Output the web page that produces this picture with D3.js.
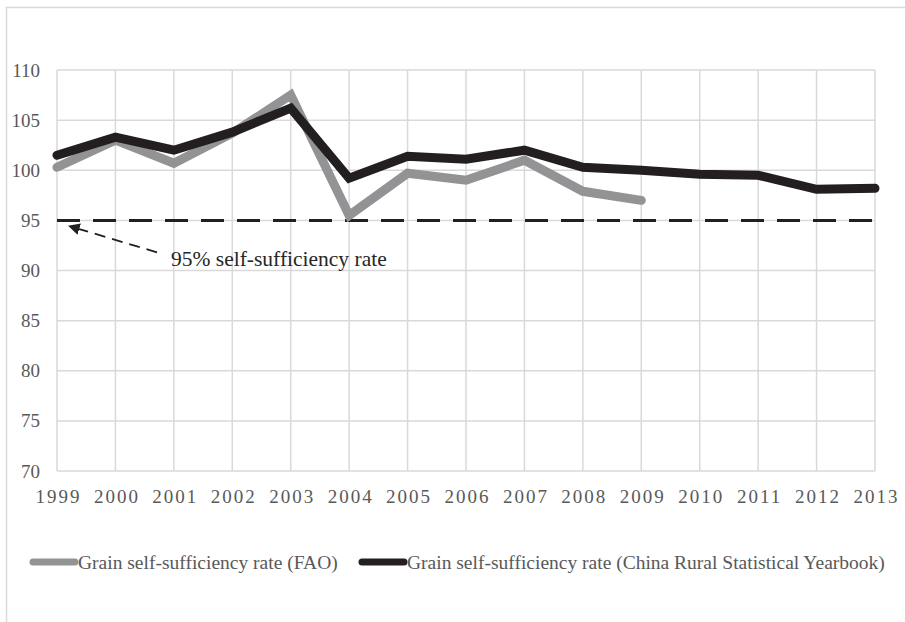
<!DOCTYPE html>
<html>
<head>
<meta charset="utf-8">
<script src="https://cdn.jsdelivr.net/npm/d3@7"></script>
<style>
  body { margin: 0; background: #fff; }
  text { font-family: "Liberation Serif", "Times New Roman", Times, serif; }
</style>
</head>
<body>
<div id="chart"></div>
<script>
// chart data
let years = [1999, 2000, 2001, 2002, 2003, 2004, 2005, 2006, 2007, 2008, 2009, 2010, 2011, 2012, 2013];
let faoRate = [100.3, 103.0, 100.7, 103.7, 107.5, 95.5, 99.7, 99.0, 101.0, 97.9, 97.0, null, null, null, null];
let yearbookRate = [101.5, 103.3, 102.0, 103.8, 106.2, 99.2, 101.4, 101.1, 102.0, 100.3, 100.0, 99.6, 99.5, 98.1, 98.2];
let yTicks = [70, 75, 80, 85, 90, 95, 100, 105, 110];
let threshold = 95;
let thresholdLabel = "95% self-sufficiency rate";
let seriesNames = ["Grain self-sufficiency rate (FAO)", "Grain self-sufficiency rate (China Rural Statistical Yearbook)"];
let seriesColors = ["#939395", "#231f20"];

let width = 905, height = 622;
let margin = {top: 70, right: 30, bottom: 151, left: 57};
let serif = "'Liberation Serif', 'Times New Roman', Times, serif";

let svg = d3.select("#chart").append("svg")
            .attr("width", width)
            .attr("height", height);

// outer frame
svg.append("rect")
   .attr("x", 6.5).attr("y", 7.5)
   .attr("width", width).attr("height", height)
   .attr("fill", "none")
   .attr("stroke", "#d9d9d9")
   .attr("stroke-width", 1.5);

let x = d3.scaleLinear()
          .domain([years[0], years[years.length - 1]])
          .range([margin.left, width - margin.right]);

let y = d3.scaleLinear()
          .domain([70, 110])
          .range([height - margin.bottom, margin.top]);

// grid
let grid = svg.append("g");
grid.selectAll(".hgrid")
    .data(yTicks)
    .enter().append("line")
    .attr("x1", x.range()[0]).attr("x2", x.range()[1])
    .attr("y1", d => y(d)).attr("y2", d => y(d))
    .attr("stroke", "#d9d9d9")
    .attr("stroke-width", 1.5);
grid.selectAll(".vgrid")
    .data(years)
    .enter().append("line")
    .attr("x1", d => x(d)).attr("x2", d => x(d))
    .attr("y1", y.range()[0]).attr("y2", y.range()[1])
    .attr("stroke", "#d9d9d9")
    .attr("stroke-width", 1.5);

// axes
let yAxis = svg.append("g")
               .attr("font-family", serif)
               .attr("transform", "translate(" + (margin.left - 17) + ",0)")
               .call(d3.axisLeft(y).tickValues(yTicks).tickSize(0).tickPadding(0));
yAxis.attr("font-family", serif);
yAxis.select(".domain").remove();
yAxis.selectAll("text")
     .attr("fill", "#595959")
     .style("font-size", "19px")
     .style("font-family", serif);

let xAxis = svg.append("g")
               .attr("transform", "translate(0," + (height - margin.bottom) + ")")
               .call(d3.axisBottom(x).tickValues(years).tickFormat(d3.format("d")).tickSize(0).tickPadding(19));
xAxis.attr("font-family", serif);
xAxis.select(".domain").remove();
xAxis.selectAll("text")
     .attr("fill", "#595959")
     .attr("dx", "1px")
     .style("font-size", "19px")
     .style("letter-spacing", "2px")
     .style("font-family", serif);

// 95% threshold line
svg.append("line")
   .attr("x1", x.range()[0]).attr("x2", x.range()[1])
   .attr("y1", y(threshold)).attr("y2", y(threshold))
   .attr("stroke", "#231f20")
   .attr("stroke-width", 3)
   .attr("stroke-dasharray", "23,13");

// series lines
let line = d3.line()
             .defined(d => d[1] != null)
             .x(d => x(d[0]))
             .y(d => y(d[1]));

[faoRate, yearbookRate].forEach(function (vals, i) {
    svg.append("path")
       .datum(years.map((yr, j) => [yr, vals[j]]))
       .attr("d", line)
       .attr("fill", "none")
       .attr("stroke", seriesColors[i])
       .attr("stroke-width", 9)
       .attr("stroke-linejoin", "miter")
       .attr("stroke-linecap", "round");
});

// annotation arrow
svg.append("defs").append("marker")
   .attr("id", "arrow")
   .attr("viewBox", "0 0 10 10")
   .attr("refX", 2).attr("refY", 5)
   .attr("markerWidth", 6.5).attr("markerHeight", 6.5)
   .attr("orient", "auto-start-reverse")
   .append("path")
   .attr("d", "M0,0 L10,5 L0,10 z")
   .attr("fill", "#231f20");

svg.append("line")
   .attr("x1", x(years[0]) + 100).attr("y1", y(threshold) + 32)
   .attr("x2", x(years[0]) + 20).attr("y2", y(threshold) + 8)
   .attr("stroke", "#231f20")
   .attr("stroke-width", 1.8)
   .attr("stroke-dasharray", "11,7")
   .attr("marker-end", "url(#arrow)");

svg.append("text")
   .attr("x", x(years[0]) + 114)
   .attr("y", y(threshold) + 46)
   .attr("fill", "#262626")
   .style("font-size", "21.5px")
   .style("font-family", serif)
   .text(thresholdLabel);

// legend
let legendX = [33, 362];
let legend = svg.append("g");
seriesNames.forEach(function (name, i) {
    legend.append("line")
          .attr("x1", legendX[i]).attr("x2", legendX[i] + 42)
          .attr("y1", 562).attr("y2", 562)
          .attr("stroke", seriesColors[i])
          .attr("stroke-width", 7)
          .attr("stroke-linecap", "round");
    legend.append("text")
          .attr("x", legendX[i] + 45)
          .attr("y", 568.5)
          .attr("fill", "#595959")
          .style("font-size", "19.5px")
          .style("font-family", serif)
          .text(name);
});
</script>
</body>
</html>
